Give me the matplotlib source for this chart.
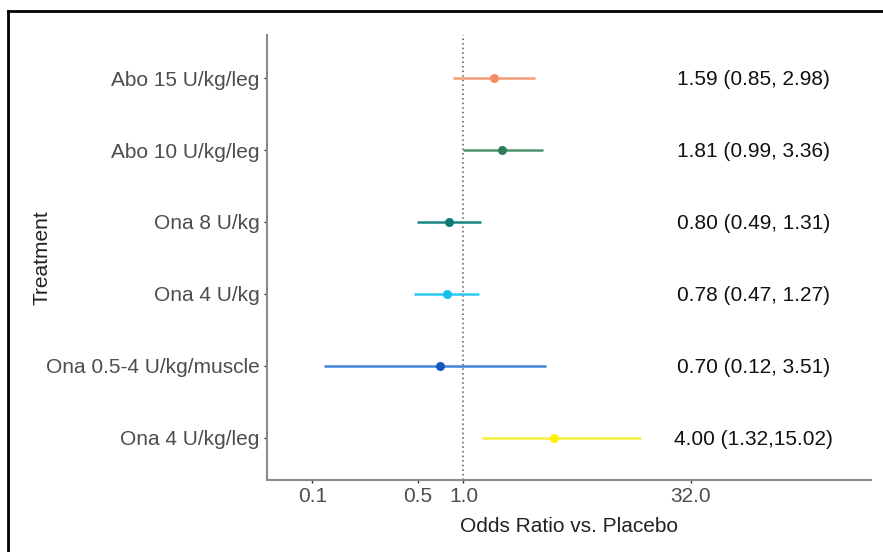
import matplotlib
matplotlib.use("Agg")
import matplotlib.pyplot as plt
from matplotlib.lines import Line2D

plt.rcParams["font.family"] = ["Liberation Sans", "DejaVu Sans"]

# data, top row first
treatments = ["Abo 15 U/kg/leg", "Abo 10 U/kg/leg", "Ona 8 U/kg", "Ona 4 U/kg",
              "Ona 0.5-4 U/kg/muscle", "Ona 4 U/kg/leg"]
odds_ratio = [1.59, 1.81, 0.80, 0.78, 0.70, 4.00]
ci_low = [0.85, 0.99, 0.49, 0.47, 0.12, 1.32]
ci_high = [2.98, 3.36, 1.31, 1.27, 3.51, 15.02]
ci_text = ["1.59 (0.85, 2.98)", "1.81 (0.99, 3.36)", "0.80 (0.49, 1.31)",
           "0.78 (0.47, 1.27)", "0.70 (0.12, 3.51)", "4.00 (1.32,15.02)"]
line_colors = ["#F79C78", "#4A9272", "#1A8585", "#2CC9F2", "#4283D8", "#F7F03C"]
point_colors = ["#F58C68", "#2F7D5B", "#0C7A76", "#14BFF0", "#1458C2", "#FFF000"]
x_ticks = [0.1, 0.5, 1.0, 32.0]
x_ticklabels = ["0.1", "0.5", "1.0", "32.0"]

W, H = 883, 552
fig = plt.figure(figsize=(W / 100, H / 100), dpi=100)
ax = fig.add_axes([267 / W, (H - 480) / H, (871 - 267) / W, (480 - 35) / H])

n = len(treatments)
ypos = list(range(n, 0, -1))

ax.axvline(1.0, color="#555555", linestyle=(0, (1, 2)), linewidth=1.1, zorder=1)

for i in range(n):
    ax.plot([ci_low[i], ci_high[i]], [ypos[i], ypos[i]], color=line_colors[i],
            linewidth=1.8, solid_capstyle="butt", zorder=2)
    ax.plot(odds_ratio[i], ypos[i], "o", color=point_colors[i], markersize=6.5,
            markeredgewidth=0, zorder=3)
    ax.text(83, ypos[i] - 0.02, ci_text[i], ha="center", va="center", fontsize=15,
            color="#111111")

ax.set_xscale("log")
ax.set_xlim(0.05, 500)
ax.set_ylim(0.41, 6.6)
ax.set_xticks(x_ticks)
ax.set_xticklabels(x_ticklabels)
ax.minorticks_off()
ax.set_yticks(ypos)
ax.set_yticklabels(treatments)

for s in ["top", "right"]:
    ax.spines[s].set_visible(False)
for s in ["left", "bottom"]:
    ax.spines[s].set_color("#8a8a8a")
    ax.spines[s].set_linewidth(1.5)

ax.tick_params(axis="both", length=2.5, width=1, color="#333333",
               labelsize=15, labelcolor="#4d4d4d")
ax.tick_params(axis="x", pad=2.5)
ax.tick_params(axis="y", pad=3)

ax.set_xlabel("Odds Ratio vs. Placebo", fontsize=15, color="#222222", va="center")
ax.xaxis.set_label_coords(0.5, (480 - 526) / 445)
ax.set_ylabel("Treatment", fontsize=15, color="#222222", va="center")
ax.yaxis.set_label_coords((42 - 267) / 604, 0.5)

# outer frame (top and left only)
fx, fy = 8 / W, 1 - 11 / H
fig.add_artist(Line2D([fx, 1], [fy, fy], transform=fig.transFigure, color="black", linewidth=2))
fig.add_artist(Line2D([fx, fx], [0, fy], transform=fig.transFigure, color="black", linewidth=2))

fig.savefig("out.png", dpi=100)
